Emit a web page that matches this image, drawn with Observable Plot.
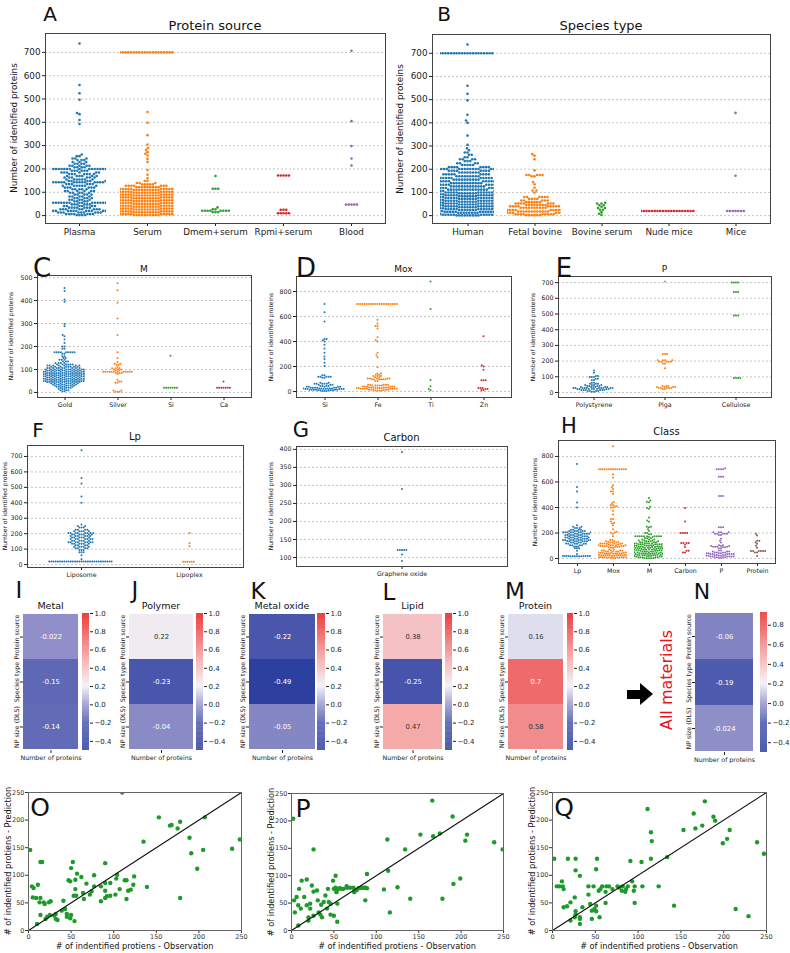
<!DOCTYPE html>
<html><head><meta charset="utf-8">
<script src="https://cdn.jsdelivr.net/npm/d3@7"></script>
<script src="https://cdn.jsdelivr.net/npm/@observablehq/plot@0.6"></script>
<style>
body{margin:0;background:#fff;}
#root{position:relative;width:790px;height:953px;overflow:hidden;font-family:"DejaVu Sans",sans-serif;background:#fff;}
.t{position:absolute;white-space:nowrap;line-height:1;color:#111;}
</style></head>
<body><div id="root"></div>
<script>
// ---------- DATA: beeswarm panels, [value, number of dots at that value] ----------
const sourceCats = ["Plasma","Serum","Dmem+serum","Rpmi+serum","Blood"];
const plasma = [[738,1],[560,1],[525,1],[497,1],[440,1],[435,1],[410,1],[393,1],[262,1],[255,2],[245,3],[238,3],[230,3],[222,4],[214,5],[207,6],[200,17],[192,6],[185,6],[178,7],[170,6],[163,6],[155,7],[148,6],[143,14],[135,6],[128,7],[120,6],[113,5],[105,6],[98,5],[90,5],[82,5],[75,5],[68,5],[61,6],[55,16],[48,6],[41,6],[34,7],[27,8],[20,22],[13,9],[7,7],[2,4]];
const serum = [[700,22],[444,1],[398,1],[345,1],[305,1],[290,1],[282,1],[272,1],[265,1],[258,1],[243,1],[230,1],[195,1],[175,1],[160,1],[148,2],[140,3],[134,5],[128,7],[122,9],[118,10],[114,11],[110,11],[106,11],[102,11],[98,11],[94,11],[90,11],[86,11],[82,11],[78,11],[74,11],[70,11],[66,11],[62,11],[58,11],[54,11],[50,11],[46,11],[42,11],[38,11],[34,11],[30,11],[26,11],[22,11],[18,11],[14,11],[10,11],[6,11],[2,10]];
const dmemSerum = [[170,1],[115,3],[35,1],[27,2],[21,8],[15,3]];
const rpmiSerum = [[172,5],[25,3],[10,5]];
const blood = [[707,1],[405,1],[298,1],[245,1],[215,1],[47,5]];

const speciesCats = ["Human","Fetal bovine","Bovine serum","Nude mice","Mice"];
const human = [[738,1],[700,24],[560,1],[525,1],[497,1],[435,1],[410,1],[400,1],[345,1],[305,1],[290,1],[282,1],[272,2],[262,2],[252,2],[243,4],[235,3],[226,4],[218,5],[209,8],[201,18],[193,8],[186,8],[178,9],[170,9],[162,10],[155,10],[148,11],[140,12],[133,12],[126,13],[119,14],[112,15],[106,16],[100,18],[96,11],[92,11],[88,11],[84,11],[80,11],[76,11],[72,11],[68,11],[64,11],[60,11],[56,11],[52,11],[48,11],[44,11],[40,11],[36,11],[32,11],[28,11],[24,11],[20,11],[16,11],[12,11],[8,11],[4,11],[1,9]];
const fetalBovine = [[265,1],[258,1],[243,1],[195,1],[175,5],[170,2],[145,1],[135,1],[120,1],[108,2],[100,1],[80,6],[72,4],[65,5],[58,6],[52,7],[46,8],[40,9],[34,10],[28,11],[24,13],[18,12],[12,11],[6,9],[2,6]];
const bovineSerum = [[55,1],[52,2],[45,2],[38,1],[33,2],[25,2],[15,1],[8,1],[3,1]];
const nudeMice = [[20,21]];
const mice = [[443,1],[172,1],[20,7]];

const mCats = ["Gold","Silver","Si","Ca"];
const gold = [[455,1],[442,1],[405,1],[395,1],[298,1],[288,1],[250,1],[245,1],[230,1],[215,1],[200,2],[190,2],[175,9],[168,2],[158,2],[150,2],[142,3],[135,3],[128,4],[122,6],[117,7],[112,8],[106,10],[100,11],[95,12],[90,12],[85,13],[80,14],[75,15],[70,15],[65,15],[60,15],[55,15],[50,12],[45,10],[40,8],[35,7],[30,6],[25,5],[20,4],[15,3],[10,3],[5,2]];
const silver = [[475,1],[445,1],[390,1],[322,1],[250,1],[175,1],[150,1],[133,1],[125,2],[120,2],[112,1],[105,3],[100,3],[95,2],[90,12],[85,3],[80,1],[55,1],[48,2],[42,2],[8,2],[3,3]];
const siMetal = [[160,1],[20,7]];
const ca = [[48,1],[20,7]];

const moxCats = ["Si","Fe","Ti","Zn"];
const siOxide = [[700,1],[635,1],[560,1],[420,2],[410,1],[400,1],[375,1],[345,1],[310,1],[280,1],[260,1],[230,1],[205,1],[130,2],[118,5],[110,2],[70,2],[62,5],[55,3],[45,4],[38,5],[30,8],[25,9],[20,8],[15,6],[10,5],[5,3]];
const fe = [[700,22],[575,1],[545,1],[525,2],[505,1],[435,1],[410,1],[400,1],[310,1],[290,1],[275,1],[195,1],[145,2],[135,2],[125,3],[115,2],[105,5],[98,6],[85,2],[55,5],[48,5],[40,6],[33,8],[28,9],[22,8],[15,6],[8,4]];
const ti = [[880,1],[660,1],[92,1],[42,1],[20,1],[10,1]];
const zn = [[443,1],[210,1],[200,1],[175,1],[90,3],[28,3],[20,2],[12,2]];

const pCats = ["Polystyrene","Plga","Cellulose"];
const polystyrene = [[140,1],[125,1],[105,2],[98,3],[88,2],[80,2],[62,2],[55,3],[48,4],[42,4],[35,6],[28,10],[22,8],[16,6],[10,4],[5,2]];
const plga = [[707,1],[245,3],[205,4],[195,5],[185,2],[155,1],[42,3],[35,4],[28,5],[22,2]];
const cellulose = [[700,4],[640,3],[490,3],[92,4]];

const lpCats = ["Liposome","Lipoplex"];
const liposome = [[740,1],[560,1],[525,1],[440,1],[400,1],[260,1],[250,2],[240,3],[225,4],[215,5],[205,8],[195,7],[185,6],[175,6],[165,7],[155,6],[145,8],[135,6],[125,4],[115,5],[105,4],[95,3],[80,3],[60,1],[35,1],[20,30]];
const lipoplex = [[205,1],[138,1],[118,1],[18,6]];

const carbonCats = ["Graphene oxide"];
const grapheneOxide = [[393,1],[290,1],[121,5],[108,1],[90,1]];

const classCats = ["Lp","Mox","M","Carbon","P","Protein"];
const carbonClass = [[395,1],[290,1],[200,4],[121,4],[110,1],[90,1],[60,2],[48,2]];
const proteinClass = [[195,1],[180,1],[140,2],[128,1],[115,1],[100,1],[85,1],[58,6],[48,2],[20,1]];

// tick labels
const ticksA = [0,100,200,300,400,500,600,700];
const ticksC = [0,100,200,300,400,500];
const ticksD = [0,200,400,600,800];
const ticksG = [100,150,200,250,300,350,400];
const ticksH = [0,200,400,600,800];
const tab10 = ["#1f77b4","#ff7f0e","#2ca02c","#d62728","#9467bd","#8c564b"];

// ---------- DATA: correlation heatmaps ----------
const corrRows = ["Protein source","Species type","NP size (DLS)"];
const corrCol = "Number of proteins";
const corrMetal = [-0.022,-0.15,-0.14];
const corrPolymer = [0.22,-0.23,-0.04];
const corrMetalOxide = [-0.22,-0.49,-0.05];
const corrLipid = [0.38,-0.25,0.47];
const corrProtein = [0.16,0.7,0.58];
const corrAll = [-0.06,-0.19,-0.024];
const cbTicks = [-0.4,-0.2,0,0.2,0.4,0.6,0.8,1.0];
const cbTicksN = [-0.4,-0.2,0,0.2,0.4,0.6,0.8];

// ---------- DATA: observation vs prediction ----------
const scatterTicks = [0,50,100,150,200,250];
const diagonal = [0,250];
const predO = [[110,250],[153,205],[166,190],[168,191],[175,185],[178,197],[207,205],[135,161],[189,168],[191,140],[205,146],[239,148],[248,165],[2,146],[14,124],[16,124],[52,124],[90,122],[50,113],[57,103],[47,91],[49,89],[55,92],[62,97],[68,85],[77,100],[103,94],[124,98],[113,91],[115,91],[139,79],[178,59],[198,112],[4,80],[6,77],[11,83],[5,60],[9,59],[14,59],[18,51],[19,48],[10,12],[13,51],[24,51],[26,53],[14,28],[22,25],[25,28],[20,21],[30,27],[32,21],[34,19],[32,30],[41,54],[39,36],[43,39],[45,30],[45,25],[50,28],[49,22],[54,17],[53,63],[56,63],[55,75],[64,68],[65,57],[72,65],[74,71],[77,80],[85,53],[90,59],[92,62],[96,63],[90,72],[85,80],[90,86],[96,86],[104,101],[117,72],[120,74],[123,83],[115,57],[107,75],[102,65]];
const predP = [[2,204],[26,148],[113,166],[134,148],[152,175],[166,237],[167,172],[175,177],[190,208],[205,164],[207,175],[239,161],[249,148],[125,79],[140,58],[178,58],[191,85],[199,95],[3,55],[6,61],[9,76],[12,91],[8,46],[11,40],[4,33],[15,61],[18,93],[18,46],[22,49],[24,82],[26,71],[30,73],[31,55],[20,24],[22,40],[20,18],[26,27],[32,33],[34,29],[36,24],[40,64],[38,52],[44,52],[46,49],[43,76],[49,91],[50,76],[52,100],[52,78],[53,73],[55,76],[57,77],[59,76],[61,76],[65,78],[69,78],[73,78],[74,70],[79,77],[83,78],[87,78],[89,77],[89,103],[87,55],[54,49],[46,29],[54,16],[65,81],[77,74],[82,78],[86,78],[109,75],[114,109],[116,33],[35,47],[42,40],[50,27],[53,70],[8,9]];
const predQ = [[111,220],[115,178],[116,162],[115,130],[153,182],[165,212],[167,185],[175,190],[178,234],[188,206],[190,199],[199,158],[204,166],[207,182],[239,160],[247,139],[134,133],[2,130],[18,130],[27,130],[52,130],[91,126],[104,124],[27,109],[32,99],[51,111],[5,80],[8,80],[11,89],[12,80],[13,75],[13,42],[17,44],[21,51],[26,60],[27,35],[27,29],[26,24],[21,18],[32,24],[32,12],[32,21],[35,42],[42,80],[42,65],[44,48],[46,36],[46,21],[48,80],[49,39],[51,35],[51,45],[54,72],[56,75],[55,24],[58,80],[62,70],[63,80],[62,50],[66,80],[70,75],[76,80],[78,78],[82,80],[81,72],[85,70],[86,75],[88,80],[93,89],[95,72],[96,50],[96,80],[105,80],[124,80],[142,45],[214,39],[229,26]];

// ---------- helpers ----------
const root = document.getElementById("root");
const FONT = '"DejaVu Sans", sans-serif';
function put(el, x, y) { el.style.position = "absolute"; el.style.left = x + "px"; el.style.top = y + "px"; root.appendChild(el); }
function txt(s, x, y, size, o = {}) {
  const d = document.createElement("div");
  d.className = "t"; d.textContent = s;
  d.style.left = x + "px"; d.style.top = y + "px"; d.style.fontSize = size + "px";
  if (o.color) d.style.color = o.color;
  d.style.transform = "translate(-50%,-50%)" + (o.rot ? ` rotate(${o.rot}deg)` : "");
  root.appendChild(d);
}
const expand = (cats, groups) => cats.flatMap((c, i) => groups[i].flatMap(([v, n]) => Array.from({length: n}, () => ({c, v})))).sort((a, b) => a.v - b.v);

function swarm(p) {
  const ml = 30, mr = 2, mt = 2, mb = 18;
  const W = p.R - p.L + ml + mr, H = p.B - p.T + mt + mb;
  const style = {fontSize: p.fs + "px", fontFamily: FONT, background: "transparent", color: "#222", overflow: "visible"};
  const base = Plot.plot({
    width: W, height: H, marginLeft: ml, marginRight: mr, marginTop: mt, marginBottom: mb, style,
    x: {type: "band", domain: p.cats, padding: 0, label: null, tickSize: 3, tickPadding: 2},
    y: {domain: p.yDomain, ticks: p.yTicks, label: null, tickSize: 3, tickPadding: 2},
    marks: [
      Plot.ruleY(p.yTicks, {stroke: "#b5b5b5", strokeDasharray: "2,2", strokeWidth: 0.8}),
      Plot.frame({stroke: "#444", strokeWidth: 1})
    ]
  });
  const over = Plot.plot({
    width: W, height: H, marginLeft: ml, marginRight: mr, marginTop: mt, marginBottom: mb, style,
    fx: {domain: p.cats, paddingInner: 0.2, paddingOuter: 0.1, axis: null, label: null},
    y: {domain: p.yDomain, axis: null},
    color: {domain: p.cats, range: p.colors || tab10},
    marks: [Plot.dot(expand(p.cats, p.groups), Plot.dodgeX({anchor: "middle", padding: 0.15}, {y: "v", fx: "c", r: p.r, fill: "c", clip: true}))]
  });
  put(base, p.L - ml, p.T - mt); put(over, p.L - ml, p.T - mt);
  txt(p.title, (p.L + p.R) / 2, p.titleY, p.titleFs);
  txt(p.letter, p.lx, p.ly, p.lfs);
  txt("Number of identified proteins", p.ylx, (p.T + p.B) / 2, p.yfs, {rot: -90});
}

const colorSpec = {type: "linear", domain: [-0.5, -0.2, 0, 0.2, 0.45, 1.0],
  range: ["#2c3f9e", "#4b58ad", "#9896cc", "#f0f0f6", "#f5b0b0", "#e81818"], interpolate: "rgb"};

function heat(p) {
  const ml = 22, mr = 0, mt = 0, mb = 16;
  const data = corrRows.map((r, i) => ({row: r, col: corrCol, v: p.vals[i]}));
  const light = d => d.v >= 0 && d.v < 0.65;
  const pl = Plot.plot({
    width: p.R - p.L + ml + mr, height: p.B - p.T + mt + mb,
    marginLeft: ml, marginRight: mr, marginTop: mt, marginBottom: mb,
    style: {fontSize: "6.3px", fontFamily: FONT, background: "transparent", color: "#222", overflow: "visible"},
    x: {domain: [corrCol], padding: 0, label: null, tickSize: 3, tickPadding: 2},
    y: {domain: corrRows, padding: 0, label: null, tickSize: 3, tickPadding: 2, tickRotate: -90},
    color: colorSpec,
    marks: [
      Plot.cell(data, {x: "col", y: "row", fill: "v", inset: 0}),
      Plot.text(data, {filter: light, x: "col", y: "row", text: d => String(d.v), fill: "#333", fontSize: 6.8}),
      Plot.text(data, {filter: d => !light(d), x: "col", y: "row", text: d => String(d.v), fill: "white", fontSize: 6.8})
    ]
  });
  put(pl, p.L - ml, p.T - mt);
  const dom = p.cbDomain, step = 0.005;
  const grad = d3.range(dom[0], dom[1], step);
  const cb = Plot.plot({
    width: p.cbR - p.cbL + 26, height: p.B - p.T, marginLeft: 0, marginRight: 26, marginTop: 0, marginBottom: 0,
    style: {fontSize: "7px", fontFamily: FONT, background: "transparent", color: "#222", overflow: "visible"},
    x: {domain: [0, 1], axis: null},
    y: {domain: dom, axis: "right", ticks: p.cbTicks, tickFormat: d3.format(".1f"), tickSize: 3, tickPadding: 2, label: null},
    color: colorSpec,
    marks: [Plot.rect(grad, {x1: () => 0, x2: () => 1, y1: d => d, y2: d => Math.min(d + step * 1.3, dom[1]), fill: d => d})]
  });
  put(cb, p.cbL, p.T);
  if (p.title) txt(p.title, (p.L + p.R) / 2, 606, 9.5);
  txt(p.letter, p.lx, p.ly, p.lfs || 23);
}

function scatter(pts, L, T, R, B, letter) {
  const ml = 20, mr = 4, mt = 2, mb = 12;
  const pl = Plot.plot({
    width: R - L + ml + mr, height: B - T + mt + mb, marginLeft: ml, marginRight: mr, marginTop: mt, marginBottom: mb,
    style: {fontSize: "6.5px", fontFamily: FONT, background: "transparent", color: "#333", overflow: "visible"},
    x: {domain: [0, 250], ticks: scatterTicks, label: null, tickSize: 3, tickPadding: 1},
    y: {domain: [0, 250], ticks: scatterTicks, label: null, tickSize: 3, tickPadding: 1},
    marks: [
      Plot.dot(pts, {x: d => d[0], y: d => d[1], r: 2.2, fill: "#1e9a2a", clip: true}),
      Plot.line(diagonal, {x: d => d, y: d => d, stroke: "#111", strokeWidth: 1.1}),
      Plot.frame({stroke: "#666", strokeWidth: 1})
    ]
  });
  put(pl, L - ml, T - mt);
  txt("# of indentified protiens - Observation", (L + R) / 2, 946, 8.2);
  txt("# of indentified protiens - Prediction", L - 20, (T + B) / 2, 8.2, {rot: -90});
  txt(letter, L + 12, T + 15, 25);
}

// ---------- build ----------
swarm({L: 45, T: 33, R: 385, B: 223, cats: sourceCats, groups: [plasma, serum, dmemSerum, rpmiSerum, blood],
  yDomain: [-34, 781], yTicks: ticksA, fs: 8.8, r: 1.3, title: "Protein source", titleY: 25, titleFs: 13,
  letter: "A", lx: 50, ly: 14, lfs: 20, ylx: 14, yfs: 8.8});
swarm({L: 432, T: 34, R: 770, B: 223, cats: speciesCats, groups: [human, fetalBovine, bovineSerum, nudeMice, mice],
  yDomain: [-34, 781], yTicks: ticksA, fs: 8.8, r: 1.3, title: "Species type", titleY: 25, titleFs: 13,
  letter: "B", lx: 444, ly: 14, lfs: 20, ylx: 400, yfs: 8.8});
swarm({L: 37, T: 275, R: 251, B: 397, cats: mCats, groups: [gold, silver, siMetal, ca],
  yDomain: [-22, 509], yTicks: ticksC, fs: 6.3, r: 1.0, title: "M", titleY: 269, titleFs: 9,
  letter: "C", lx: 42, ly: 268, lfs: 26, ylx: 11, yfs: 6});
swarm({L: 296, T: 276, R: 511, B: 397, cats: moxCats, groups: [siOxide, fe, ti, zn],
  yDomain: [-48, 920], yTicks: ticksD, fs: 6.3, r: 1.0, title: "Mox", titleY: 269, titleFs: 9,
  letter: "D", lx: 306, ly: 268, lfs: 26, ylx: 271, yfs: 6});
swarm({L: 558, T: 276, R: 771, B: 397, cats: pCats, groups: [polystyrene, plga, cellulose],
  yDomain: [-32, 739], yTicks: ticksA, fs: 6.3, r: 1.0, title: "P", titleY: 269, titleFs: 9,
  letter: "E", lx: 564, ly: 268, lfs: 26, ylx: 533, yfs: 6});
swarm({L: 27, T: 445, R: 243, B: 567, cats: lpCats, groups: [liposome, lipoplex],
  yDomain: [-19, 771], yTicks: ticksA, fs: 6.3, r: 1.0, title: "Lp", titleY: 437, titleFs: 10,
  letter: "F", lx: 38, ly: 430, lfs: 20, ylx: 5, yfs: 6});
swarm({L: 296, T: 446, R: 507, B: 566, cats: carbonCats, groups: [grapheneOxide],
  yDomain: [75, 408], yTicks: ticksG, fs: 6.3, r: 1.0, title: "Carbon", titleY: 438, titleFs: 10,
  letter: "G", lx: 301, ly: 430, lfs: 21, ylx: 271, yfs: 6});
swarm({L: 558, T: 440, R: 775, B: 563, cats: classCats,
  groups: [liposome.concat(lipoplex), siOxide.concat(fe, ti, zn), gold.concat(silver, siMetal, ca), carbonClass, polystyrene.concat(plga, cellulose), proteinClass],
  yDomain: [-39, 925], yTicks: ticksH, fs: 6.3, r: 1.0, title: "Class", titleY: 432, titleFs: 10,
  letter: "H", lx: 569, ly: 426, lfs: 21, ylx: 535, yfs: 6});

heat({vals: corrMetal, L: 23, R: 78, T: 613, B: 750, cbL: 82, cbR: 89, cbDomain: [-0.5, 1.0], cbTicks, title: "Metal", letter: "I", lx: 19, ly: 590});
heat({vals: corrPolymer, L: 129, R: 193, T: 613, B: 750, cbL: 196, cbR: 203, cbDomain: [-0.5, 1.0], cbTicks, title: "Polymer", letter: "J", lx: 135, ly: 590});
heat({vals: corrMetalOxide, L: 249, R: 315, T: 613, B: 750, cbL: 317, cbR: 325, cbDomain: [-0.5, 1.0], cbTicks, title: "Metal oxide", letter: "K", lx: 258, ly: 591});
heat({vals: corrLipid, L: 383, R: 442, T: 613, B: 750, cbL: 445, cbR: 452, cbDomain: [-0.5, 1.0], cbTicks, title: "Lipid", letter: "L", lx: 389, ly: 592});
heat({vals: corrProtein, L: 508, R: 563, T: 613, B: 750, cbL: 567, cbR: 573, cbDomain: [-0.5, 1.0], cbTicks, title: "Protein", letter: "M", lx: 515, ly: 591});
heat({vals: corrAll, L: 695, R: 753, T: 612, B: 752, cbL: 760, cbR: 767, cbDomain: [-0.5, 0.93], cbTicks: cbTicksN, title: null, letter: "N", lx: 702, ly: 592, lfs: 22});

// arrow and "All materials"
const shaft = document.createElement("div");
shaft.style.cssText = "width:14px;height:9px;background:#000;";
put(shaft, 627, 690);
const head = document.createElement("div");
head.style.cssText = "width:0;height:0;border-left:13px solid #000;border-top:11px solid transparent;border-bottom:11px solid transparent;";
put(head, 640, 683);
txt("All materials", 667, 680, 16, {rot: -90, color: "#e8141c"});

scatter(predO, 28, 792, 241, 930, "O");
scatter(predP, 291, 793, 503, 930, "P");
scatter(predQ, 552, 792, 766, 930, "Q");
</script>
</body></html>
